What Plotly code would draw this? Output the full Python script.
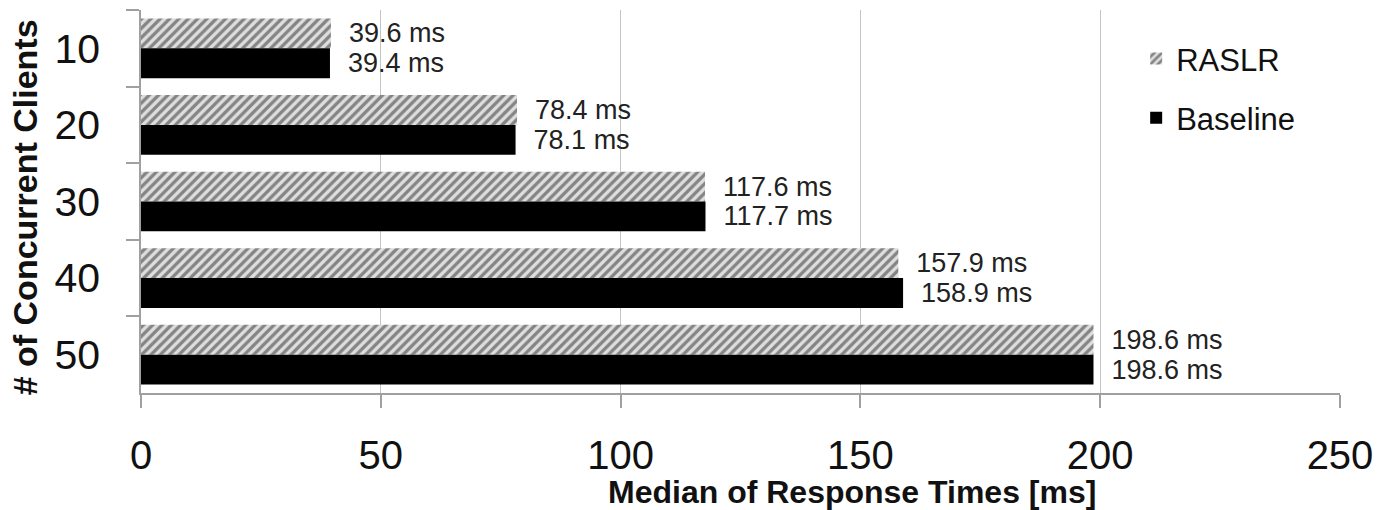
import plotly.graph_objects as go

categories = ["10", "20", "30", "40", "50"]
raslr = [39.6, 78.4, 117.6, 157.9, 198.6]
baseline = [39.4, 78.1, 117.7, 158.9, 198.6]
x_ticks = [0, 50, 100, 150, 200, 250]
series_names = ["RASLR", "Baseline"]

FONT = "Liberation Sans, Arial, Helvetica, sans-serif"
PAD = "\u00a0\u00a0"

fig = go.Figure()
fig.add_trace(go.Bar(
    name=series_names[0], y=categories, x=raslr, orientation="h",
    marker=dict(color="#dedede", line=dict(width=0),
                pattern=dict(shape="/", fgcolor="#2a2a2a", bgcolor="#dedede",
                             size=6.6, solidity=0.5)),
    text=[PAD + f"{v:.1f} ms" for v in raslr], textposition="outside",
    textfont=dict(size=27, color="#222", family=FONT), constraintext="none",
    cliponaxis=False, legendgroup="a",
))
fig.add_trace(go.Bar(
    name=series_names[1], y=categories, x=baseline, orientation="h",
    marker=dict(color="#000000", line=dict(width=0)),
    text=[PAD + f"{v:.1f} ms" for v in baseline], textposition="outside",
    textfont=dict(size=27, color="#222", family=FONT), constraintext="none",
    cliponaxis=False, legendgroup="b",
))

fig.update_layout(
    width=1384, height=510,
    margin=dict(l=141, r=44, t=10, b=117),
    plot_bgcolor="white", paper_bgcolor="white",
    barmode="group", bargap=0.22, bargroupgap=0,
    font=dict(family=FONT, color="#111"),
    showlegend=True,
    legend=dict(x=0.83, y=0.943, xanchor="left", yanchor="top",
                font=dict(size=31, family=FONT, color="#111"),
                traceorder="grouped", tracegroupgap=16,
                bgcolor="rgba(0,0,0,0)", itemwidth=30),
    xaxis=dict(range=[0, 250], tickvals=x_ticks, showgrid=True,
               gridcolor="#c4c4c4", gridwidth=1.2, zeroline=False,
               showline=True, linecolor="#a0a0a0", linewidth=1.5,
               ticks="outside", ticklen=13, tickcolor="#a0a0a0", tickwidth=1.5,
               tickfont=dict(size=40, family=FONT, color="#111"),
               ticklabelstandoff=13),
    yaxis=dict(type="category", autorange="reversed", showgrid=False,
               showline=True, linecolor="#a0a0a0", linewidth=1.5,
               ticks="outside", ticklen=13, tickcolor="#a0a0a0", tickwidth=1.5,
               tickson="boundaries",
               tickfont=dict(size=41, family=FONT, color="#111"),
               ticklabelstandoff=31),
    annotations=[
        dict(text="<b>Median of Response Times [ms]</b>", xref="paper", yref="paper",
             x=0.593, y=-0.258, xanchor="center", yanchor="middle",
             showarrow=False, font=dict(size=32, family=FONT, color="#111")),
        dict(text="<b># of Concurrent Clients</b>", xref="paper", yref="paper",
             x=-0.097, y=0.484, xanchor="center", yanchor="middle", textangle=-90,
             showarrow=False, font=dict(size=34, family=FONT, color="#111")),
    ],
)

fig.write_html("out.html", config={"displayModeBar": False},
               post_script="document.body.style.margin='0';document.body.style.overflow='hidden';")
